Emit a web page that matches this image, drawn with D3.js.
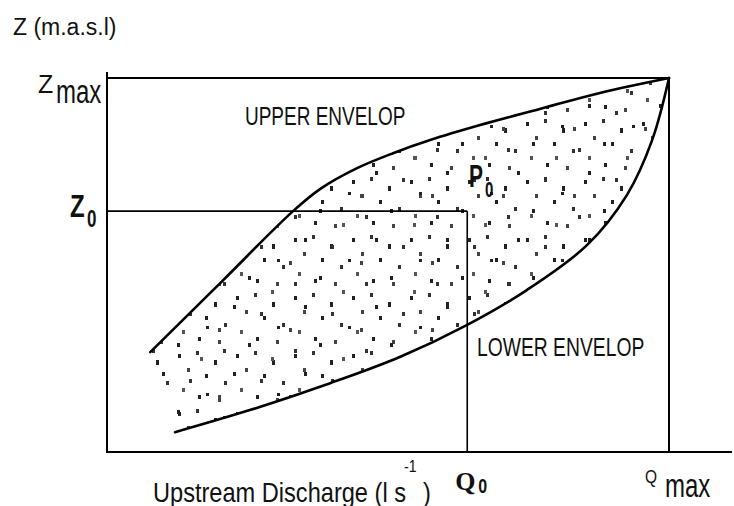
<!DOCTYPE html>
<html>
<head>
<meta charset="utf-8">
<script src="https://cdn.jsdelivr.net/npm/d3@7"></script>
<style>
  html, body { margin: 0; padding: 0; background: #fff; }
  svg { display: block; }
</style>
</head>
<body>
<div id="chart"></div>
<script>
// --- data (normalised: Q / Qmax, Z / Zmax) ---
const upperQ = [0.077, 0.205, 0.331, 0.379, 0.445, 0.509, 0.575, 0.664, 0.770, 0.877, 1.0];
const upperZ = [0.267, 0.457, 0.644, 0.703, 0.759, 0.799, 0.834, 0.874, 0.917, 0.960, 1.0];
const lowerQ = [0.121, 0.254, 0.397, 0.521, 0.641, 0.747, 0.854, 0.925, 0.970, 1.0];
const lowerZ = [0.053, 0.112, 0.184, 0.254, 0.340, 0.433, 0.553, 0.687, 0.834, 1.0];
const Q0 = 0.641, Z0 = 0.644, Qmax = 1.0, Zmax = 1.0;
const qAxisEnd = 1.112;

// stipple texture tiles: [x, y, w, h, colour]
const stippleA = [[4,6,3,4,'#222'],[22,3,3,4,'#333'],[40,12,3,5,'#222'],[13,20,3,4,'#444'],[31,26,3,4,'#222'],
                  [50,33,3,4,'#333'],[8,40,3,4,'#555'],[24,47,3,4,'#222'],[44,50,3,4,'#444']];
const stippleB = [[10,14,3,4,'#333'],[35,8,3,4,'#222'],[58,22,3,4,'#555'],[20,37,3,4,'#222'],
                  [47,44,3,4,'#333'],[64,58,3,3,'#222'],[5,60,3,4,'#444']];

const W = 734, H = 506;
const sans = '"Liberation Sans", Arial, sans-serif';
const serif = '"Liberation Serif", "Times New Roman", serif';

const svg = d3.select('#chart').append('svg')
  .attr('width', W).attr('height', H)
  .attr('viewBox', `0 0 ${W} ${H}`);

svg.append('rect').attr('width', W).attr('height', H).attr('fill', '#fff');

const x = d3.scaleLinear().domain([0, 1]).range([107, 669]);
const y = d3.scaleLinear().domain([0, 1]).range([452, 78]);

// patterns
const defs = svg.append('defs');
function addPattern(id, w, h, dots) {
  const p = defs.append('pattern').attr('id', id)
    .attr('patternUnits', 'userSpaceOnUse')
    .attr('width', w).attr('height', h);
  dots.forEach(d => {
    p.append('rect').attr('x', d[0]).attr('y', d[1])
      .attr('width', d[2]).attr('height', d[3]).attr('fill', d[4]);
  });
}
addPattern('stippleA', 58, 58, stippleA);
addPattern('stippleB', 71, 67, stippleB);

const upper = upperQ.map((q, i) => [q, upperZ[i]]);
const lower = lowerQ.map((q, i) => [q, lowerZ[i]]);

const line = d3.line()
  .x(d => x(d[0])).y(d => y(d[1]))
  .curve(d3.curveCatmullRom.alpha(0.5));

// filled (stippled) region between the envelopes
const regionPath = line(upper) + 'L' + line(lower.slice().reverse()).slice(1) + 'Z';
['stippleA', 'stippleB'].forEach(id => {
  svg.append('path').attr('d', regionPath)
    .attr('fill', `url(#${id})`).attr('stroke', 'none');
});

// frame / axes
const ax = svg.append('g').attr('stroke', '#000').attr('stroke-width', 2).attr('fill', 'none');
ax.append('line').attr('x1', x(0)).attr('x2', x(0)).attr('y1', y(Zmax) - 6).attr('y2', y(0) + 1);
ax.append('line').attr('x1', x(0) - 1).attr('x2', x(qAxisEnd)).attr('y1', y(0)).attr('y2', y(0));
ax.append('line').attr('x1', x(0)).attr('x2', x(Qmax)).attr('y1', y(Zmax)).attr('y2', y(Zmax));
ax.append('line').attr('x1', x(Qmax)).attr('x2', x(Qmax)).attr('y1', y(Zmax)).attr('y2', y(0));

// Q0 / Z0 guide lines
const guide = svg.append('g').attr('stroke', '#000').attr('stroke-width', 1.6);
guide.append('line').attr('x1', x(0)).attr('x2', x(Q0)).attr('y1', y(Z0)).attr('y2', y(Z0));
guide.append('line').attr('x1', x(Q0)).attr('x2', x(Q0)).attr('y1', y(Z0)).attr('y2', y(0));

// envelopes
[upper, lower].forEach(pts => {
  svg.append('path').attr('d', line(pts))
    .attr('fill', 'none').attr('stroke', '#000')
    .attr('stroke-width', 2.6).attr('stroke-linecap', 'round');
});

// text helper: vertically stretched glyphs like the original scan
function label(px, py, str, size, opts = {}) {
  return svg.append('text')
    .attr('transform', `translate(${px},${py}) scale(1,${opts.sy || 1})`)
    .attr('font-family', opts.family || sans)
    .attr('font-size', size)
    .attr('font-weight', opts.bold ? 'bold' : 'normal')
    .attr('fill', '#111')
    .text(str);
}

label(13, 35, 'Z (m.a.s.l)', 23, { sy: 1.08 });

// Zmax
label(38, 93, 'Z', 25, { sy: 1.05 });
label(56, 103, 'max', 24, { sy: 1.4 });

// Z0
label(70, 217, 'Z', 24, { bold: true, sy: 1.3 });
label(87, 227, '0', 17, { bold: true, sy: 1.45 });

// P0
label(469, 187, 'P', 21, { bold: true, sy: 1.45 });
label(485, 197, '0', 15, { bold: true, sy: 1.5 });

// Q0
label(x(Q0) - 12, 490, 'Q', 26, { bold: true, family: serif });
label(x(Q0) + 11, 493, '0', 16, { bold: true, sy: 1.3 });

// Qmax
label(x(Qmax) - 24, 483, 'Q', 15.5, { sy: 1.18 });
label(x(Qmax) - 4, 497, 'max', 24, { sy: 1.4 });

// envelope labels
label(245, 125, 'UPPER ENVELOP', 19, { sy: 1.38 });
label(477, 356, 'LOWER ENVELOP', 19.3, { sy: 1.38 });

// x-axis title
label(153, 502, 'Upstream Discharge (l s', 23.6, { sy: 1.18 });
label(404, 472, '-1', 14, { sy: 1.2 });
label(423, 502, ')', 23.6, { sy: 1.18 });
</script>
</body>
</html>
